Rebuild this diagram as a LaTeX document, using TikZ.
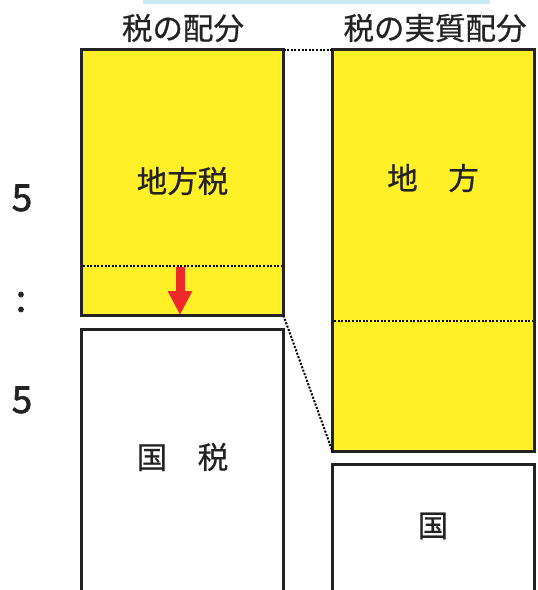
\documentclass[tikz,border=0pt]{standalone}
\usepackage{fontspec}
\setmainfont{Noto Sans CJK JP}
\newfontfamily\medfont{Noto Sans CJK JP}[FakeBold=0.7]
\newfontfamily\numfont{Noto Sans CJK JP}[FakeBold=1.8]
\usetikzlibrary{arrows.meta}
\definecolor{yel}{RGB}{255,240,40}
\definecolor{edge}{RGB}{35,35,35}
\definecolor{lblue}{RGB}{200,234,240}
\definecolor{arr}{RGB}{238,42,42}
\begin{document}
\begin{tikzpicture}[x=1pt,y=-1pt,
  box/.style={draw=edge,line width=2.8pt,minimum width=202pt,inner sep=0pt,outer sep=0pt},
  lab/.style={font=\medfont\fontsize{30.5}{30.5}\selectfont,text=edge,inner sep=0pt},
  ratio/.style={font=\numfont\fontsize{37}{37}\selectfont,text=edge,inner sep=0pt},
  dotline/.style={draw=black,line width=2pt,dash pattern=on 2pt off 1.6pt}]
\useasboundingbox (0,0) rectangle (538,590);
\clip (0,0) rectangle (538,590);
\fill[lblue] (143,0) rectangle (490,3.5);
% boxes
\node[box,fill=yel,minimum height=266pt] (LY) at (182.5,182.5) {};
\node[box,fill=white,minimum height=290pt] (LW) at (182.5,474.5) {};
\node[box,fill=yel,minimum height=402pt] (RY) at (433.5,250.5) {};
\node[box,fill=white,minimum height=156pt] (RW) at (433.5,542.5) {};
% inner dotted lines
\coordinate (ld1) at (83,266);
\coordinate (ld2) at (282,266);
\coordinate (rd1) at (334,321);
\coordinate (rd2) at (533,321);
\draw[dotline] (ld1) -- (ld2);
\draw[dotline] (rd1) -- (rd2);
% connectors between columns
\draw[dotline] (LY.north east) -- (RY.north west);
\draw[dotline] (LY.south east) -- (RY.south west);
% red arrow
\coordinate (a1) at (180,267);
\coordinate (a2) at (180,315);
\draw[arr,line width=9pt,-{Triangle[width=23pt,length=24pt]}] (a1) -- (a2);
% titles
\node[lab] (t1) at (183,28) {税の配分};
\node[lab] (t2) at (435,28) {税の実質配分};
% box labels
\node[lab] (l1) at (182.5,181) {地方税};
\node[lab] (l2) at (433,178) {地　方};
\node[lab] (l3) at (182.5,457) {国　税};
\node[lab] (l4) at (433,526) {国};
% ratio
\node[ratio] (r1) at (22,198) {5};
\node[ratio] (r2) at (21,302) {:};
\node[ratio] (r3) at (22,400) {5};
\end{tikzpicture}
\end{document}
